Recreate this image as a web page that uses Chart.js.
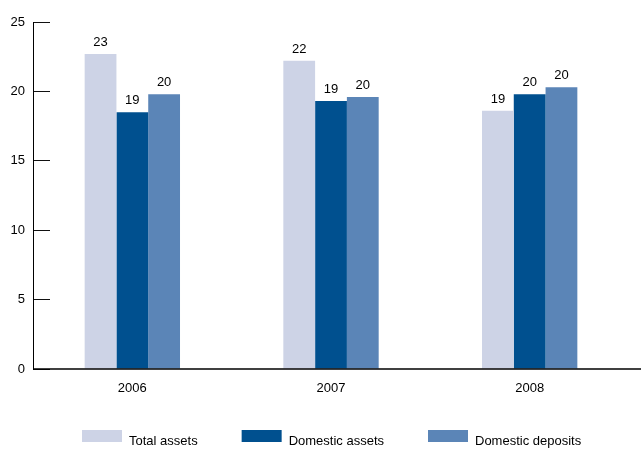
<!DOCTYPE html>
<html>
<head>
<meta charset="utf-8">
<script src="https://cdn.jsdelivr.net/npm/chart.js@4.4.0/dist/chart.umd.min.js"></script>
<style>
    html, body { margin: 0; padding: 0; background: #fff; }
</style>
</head>
<body>
<canvas id="grafico" width="641" height="460"></canvas>
<script>
// dados do gráfico
const anos = ['2006', '2007', '2008'];
const totalAssets = [22.7, 22.2, 18.6];
const domesticAssets = [18.5, 19.3, 19.8];
const domesticDeposits = [19.8, 19.6, 20.3];
const nomesSeries = ['Total assets', 'Domestic assets', 'Domestic deposits'];
const cores = ['#cdd3e6', '#00508f', '#5b85b7'];
const ticksY = [0, 5, 10, 15, 20, 25];

const fonte = '"Liberation Sans", Arial, Helvetica, sans-serif';

// rótulos com o valor arredondado em cima de cada barra
const rotulosValores = {
    id: 'rotulosValores',
    afterDatasetsDraw(chart) {
        const ctx = chart.ctx;
        ctx.save();
        ctx.font = `13px ${fonte}`;
        ctx.fillStyle = '#000';
        ctx.textAlign = 'center';
        ctx.textBaseline = 'alphabetic';
        chart.data.datasets.forEach((ds, i) => {
            chart.getDatasetMeta(i).data.forEach((bar, j) => {
                ctx.fillText(Math.round(ds.data[j]), bar.x, bar.y - 8);
            });
        });
        // linha do eixo x até a borda direita
        const area = chart.chartArea;
        ctx.strokeStyle = '#000';
        ctx.lineWidth = 1.5;
        ctx.beginPath();
        ctx.moveTo(area.left, area.bottom);
        ctx.lineTo(chart.width, area.bottom);
        ctx.stroke();
        ctx.restore();
    }
};

// legenda desenhada embaixo
const legendaBaixo = {
    id: 'legendaBaixo',
    afterDraw(chart) {
        const ctx = chart.ctx;
        ctx.save();
        ctx.font = `13px ${fonte}`;
        ctx.textBaseline = 'alphabetic';
        ctx.textAlign = 'left';
        let x = 82;
        chart.data.datasets.forEach((ds) => {
            ctx.fillStyle = ds.backgroundColor;
            ctx.fillRect(x, 430, 40, 12);
            ctx.fillStyle = '#000';
            const tx = x + 47;
            ctx.fillText(ds.label, tx, 445);
            x = tx + ctx.measureText(ds.label).width + 44;
        });
        ctx.restore();
    }
};

const series = [totalAssets, domesticAssets, domesticDeposits];

const data = {
    labels: anos,
    datasets: series.map((valores, i) => ({
        label: nomesSeries[i],
        data: valores,
        backgroundColor: cores[i],
        borderWidth: 0,
        categoryPercentage: 0.48,
        barPercentage: 1
    }))
};

const config = {
    type: 'bar',
    data: data,
    options: {
        responsive: false,
        animation: false,
        layout: { padding: { top: 22, left: 0, right: 12, bottom: 0 } },
        plugins: {
            legend: { display: false },
            tooltip: { enabled: false }
        },
        scales: {
            x: {
                offset: true,
                grid: { display: false, drawTicks: false },
                border: { display: false },
                ticks: { padding: 12, color: '#000', font: { size: 13, family: fonte } },
                afterFit: (s) => { s.height = 91; }
            },
            y: {
                min: 0,
                max: 25,
                afterBuildTicks: (s) => { s.ticks = ticksY.map(v => ({ value: v })); },
                ticks: { padding: 25, color: '#000', font: { size: 13, family: fonte } },
                grid: { drawOnChartArea: false, drawTicks: true, tickLength: -17, color: '#111', lineWidth: 1 },
                border: { display: true, color: '#000', width: 1 },
                afterFit: (s) => {
                    s.width = 33;
                    s.paddingTop = 0;
                    s.paddingBottom = 0;
                }
            }
        }
    },
    plugins: [rotulosValores, legendaBaixo]
};

new Chart(document.getElementById('grafico'), config);
</script>
</body>
</html>
